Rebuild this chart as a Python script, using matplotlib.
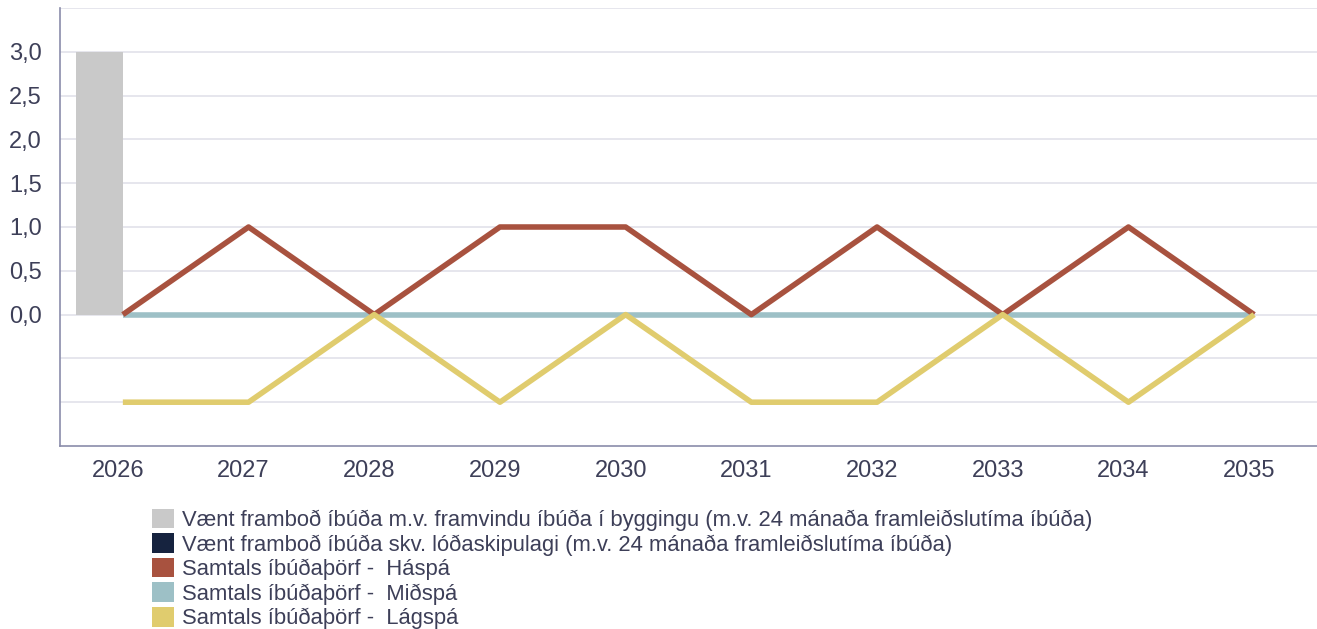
import matplotlib.pyplot as plt
import matplotlib.transforms as mtransforms
from matplotlib.patches import Patch
import numpy as np

plt.rcParams['font.family'] = ['Liberation Sans', 'DejaVu Sans']

years = ["2026", "2027", "2028", "2029", "2030", "2031", "2032", "2033", "2034", "2035"]
framvinda = [3.0, 0, 0, 0, 0, 0, 0, 0, 0, 0]
lodaskipulag = [0, 0, 0, 0, 0, 0, 0, 0, 0, 0]
haspa = [0, 1, 0, 1, 1, 0, 1, 0, 1, 0]
midspa = [0, 0, 0, 0, 0, 0, 0, 0, 0, 0]
lagspa = [-1, -1, 0, -1, 0, -1, -1, 0, -1, 0]

labels = [
    "Vænt framboð íbúða m.v. framvindu íbúða í byggingu (m.v. 24 mánaða framleiðslutíma íbúða)",
    "Vænt framboð íbúða skv. lóðaskipulagi (m.v. 24 mánaða framleiðslutíma íbúða)",
    "Samtals íbúðaþörf -  Háspá",
    "Samtals íbúðaþörf -  Miðspá",
    "Samtals íbúðaþörf -  Lágspá",
]
colors = ["#c9c9c9", "#16233f", "#a8523f", "#9dc0c6", "#e0cc6e"]
text_col = "#3d3f58"
axis_col = "#8a8caa"

fig = plt.figure(figsize=(13.17, 6.29), dpi=100)
ax = fig.add_axes([60 / 1317, 1 - 446 / 629, 1257 / 1317, 438 / 629])

x = np.arange(len(years))
w = 0.375
ax.bar(x - w / 2, framvinda, width=w, color=colors[0], zorder=2)
ax.bar(x + w / 2, lodaskipulag, width=w, color=colors[1], zorder=2)

lw = 4.0
ax.plot(x, midspa, color=colors[3], lw=lw, solid_capstyle='butt', zorder=3)
ax.plot(x, haspa, color=colors[2], lw=lw, solid_capstyle='butt', zorder=4)
ax.plot(x, lagspa, color=colors[4], lw=lw, solid_capstyle='butt', zorder=5)

ax.set_xlim(-0.5, 9.5)
ax.set_ylim(-1.5, 3.5)
ax.set_yticks(np.arange(-1.0, 3.51, 0.5))
ax.set_yticklabels(["", ""] + [f"{v:.1f}".replace(".", ",") for v in np.arange(0, 3.01, 0.5)] + [""])
ax.set_xticks(x)
ax.set_xticklabels(years)
ax.grid(axis='y', color="#e1e1ea", lw=1.2, zorder=0)
ax.set_axisbelow(True)
ax.tick_params(length=0, labelsize=17, labelcolor=text_col)
ax.tick_params(axis='y', pad=13)
ax.tick_params(axis='x', pad=10)
for lab in ax.get_xticklabels():
    lab.set_transform(lab.get_transform() + mtransforms.ScaledTranslation(-5 / 100, 0, fig.dpi_scale_trans))
for s in ["top", "right"]:
    ax.spines[s].set_visible(False)
for s in ["left", "bottom"]:
    ax.spines[s].set_color(axis_col)
    ax.spines[s].set_linewidth(1.2)

handles = [Patch(facecolor=c, edgecolor='none') for c in colors]
fig.legend(handles, labels, loc="upper left", bbox_to_anchor=(143 / 1317, 1 - 500 / 629),
           frameon=False, fontsize=15.8, labelcolor=text_col, handlelength=1.0, handleheight=1.0,
           handletextpad=0.4, labelspacing=0.10, borderaxespad=0)

fig.savefig("out.png", dpi=100)
